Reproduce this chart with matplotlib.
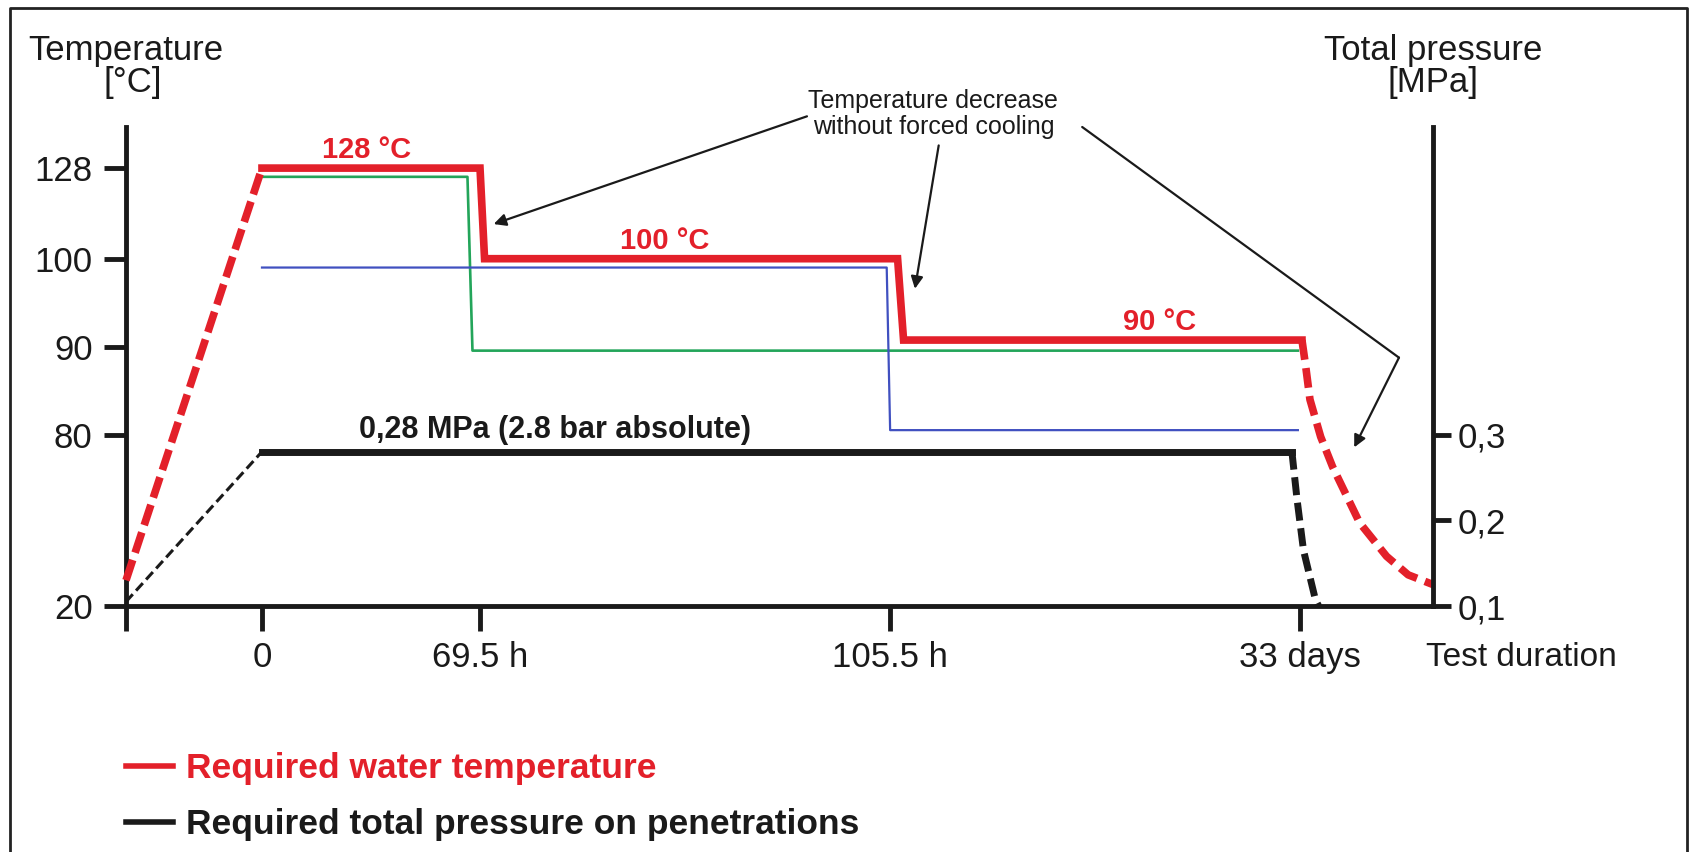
import numpy as np
import matplotlib
matplotlib.use('Agg')
import matplotlib.pyplot as plt
from matplotlib.lines import Line2D

plt.rcParams['font.family'] = ['Liberation Sans', 'DejaVu Sans']

# tick values / labels
hour_ticks = [-24, 0, 69.5, 105.5, 792]
hour_labels = ['', '0', '69.5 h', '105.5 h', '33 days']
temp_ticks = [20, 80, 90, 100, 128]
pres_ticks = [0.1, 0.2, 0.3]
pres_labels = ['0,1', '0,2', '0,3']

# the chart is schematic: breakpoints of the non-linear scales
x_anchor_h = [-48, -24, 0, 69.5, 105.5, 792, 870, 950]
x_anchor_pos = [-126, 0, 126, 328, 708, 1088, 1211, 1337]
y_anchor_t = [10, 20, 80, 90, 100, 128, 200]
y_anchor_pos = [-26.5, 0, 159, 240, 322, 406, 622]

# required water temperature (red)
red_heat_h = [-24, 0]
red_heat_t = [29, 128]
red_h = [0, 69.5, 69.9, 118, 128, 793]
red_t = [128, 128, 100, 100, 90.8, 90.8]
red_cool_h = [793, 795.2, 797.7, 804.0, 811.0, 826.9, 842.7, 855.4, 870]
red_cool_t = [90.8, 87.8, 84.0, 79.2, 68.7, 49.1, 37.4, 30.9, 27.5]

# measured temperatures
green_h = [0, 65.5, 67.1, 788]
green_t = [125.3, 125.3, 89.6, 89.6]
blue_h = [0, 105.2, 105.5, 788]
blue_t = [99, 99, 80.5, 80.5]

# required total pressure (black)
pres_heat_h = [-24, 0]
pres_heat_p = [0.105, 0.28]
pres_h = [0, 778]
pres_p = [0.28, 0.28]
pres_cool_h = [778, 786.6, 793.9, 800.9, 802.8]
pres_cool_p = [0.28, 0.2245, 0.165, 0.1075, 0.1]

RED = '#e3202a'
GREEN = '#23a55a'
BLUE = '#4050c0'
INK = '#1a1a1a'


def h_fwd(h):
    return np.interp(h, x_anchor_h, x_anchor_pos)


def h_inv(p):
    return np.interp(p, x_anchor_pos, x_anchor_h)


def t_fwd(t):
    return np.interp(t, y_anchor_t, y_anchor_pos)


def t_inv(p):
    return np.interp(p, y_anchor_pos, y_anchor_t)


fig = plt.figure(figsize=(16.92, 8.52), dpi=100)
ax = fig.add_axes([0.07447, 0.28873, 0.77246, 0.56221])
ax.set_xscale('function', functions=(h_fwd, h_inv))
ax.set_yscale('function', functions=(t_fwd, t_inv))
ax.set_xlim(-24, 870)
ax.set_ylim(20, 140.7)

ax2 = ax.twinx()
# 80 degC lines up with 0,3 MPa, 20 degC with 0,1 MPa
p_top = 0.1 + 0.2 * t_fwd(140.7) / t_fwd(80)
ax2.set_ylim(0.1, p_top)

# temperature lines
ax.plot(green_h, green_t, color=GREEN, lw=1.9, zorder=2)
ax.plot(blue_h, blue_t, color=BLUE, lw=1.6, zorder=2)
ax.plot(red_h, red_t, color=RED, lw=5.5, solid_joinstyle='miter', zorder=3)
ax.plot(red_heat_h, red_heat_t, color=RED, lw=5.5, dashes=(2.8, 1.0), zorder=3, clip_on=False)
ax.plot(red_cool_h, red_cool_t, color=RED, lw=5.5, dashes=(2.6, 1.1), zorder=3, clip_on=False)

# pressure
ax2.plot(pres_h, pres_p, color=INK, lw=5, solid_joinstyle='miter')
ax2.plot(pres_heat_h, pres_heat_p, color=INK, lw=2.2, dashes=(3.3, 1.6), clip_on=False)
ax2.plot(pres_cool_h, pres_cool_p, color=INK, lw=5, dashes=(2.6, 1.1), clip_on=False)

# spines
for s in ['top', 'right']:
    ax.spines[s].set_visible(False)
for s in ['top', 'left', 'bottom']:
    ax2.spines[s].set_visible(False)
for sp in [ax.spines['left'], ax.spines['bottom'], ax2.spines['right']]:
    sp.set_linewidth(3.5)
    sp.set_color(INK)
    sp.set_capstyle('projecting')

ax.set_xticks(hour_ticks)
ax.set_xticklabels(hour_labels)
ax.set_yticks(temp_ticks)
ax.set_yticklabels([str(t) for t in temp_ticks])
ax.minorticks_off()
ax.tick_params(axis='x', direction='out', length=18, width=3.5, pad=7,
               labelsize=25, colors=INK)
ax.tick_params(axis='y', direction='out', length=16, width=3.5, pad=8,
               labelsize=25, colors=INK)
ax2.set_yticks(pres_ticks)
ax2.set_yticklabels(pres_labels)
ax2.minorticks_off()
ax2.tick_params(axis='y', direction='out', length=13, width=3.5, pad=5,
                labelsize=25, colors=INK)

# axis titles centred on the spines
ax.text(0, 1.16, 'Temperature', transform=ax.transAxes, ha='center', va='center',
        fontsize=25, color=INK)
ax.text(0.005, 1.093, '[°C]', transform=ax.transAxes, ha='center', va='center',
        fontsize=25, color=INK)
ax.text(1, 1.16, 'Total pressure', transform=ax.transAxes, ha='center', va='center',
        fontsize=25, color=INK)
ax.text(1, 1.093, '[MPa]', transform=ax.transAxes, ha='center', va='center',
        fontsize=25, color=INK)
fig.text(1521 / 1692, 1 - 657 / 852, 'Test duration', ha='center', va='center',
         fontsize=24, color=INK)

# level labels
for h, t, lab in [(33.4, 128, '128 °C'), (85.7, 100, '100 °C'), (557, 90.8, '90 °C')]:
    ax.annotate(lab, xy=(h, t), xytext=(0, 3), textcoords='offset points',
                ha='center', va='bottom', fontsize=21, fontweight='bold', color=RED)
ax2.annotate('0,28 MPa (2.8 bar absolute)', xy=(76.1, 0.28), xytext=(0, 5),
             textcoords='offset points', ha='center', va='bottom',
             fontsize=22, fontweight='bold', color=INK)

# callout
ax.text(177.8, 144.8, 'Temperature decrease\nwithout forced cooling', ha='center',
        va='center', fontsize=18, color=INK, linespacing=1.1)
arw = dict(arrowstyle='-|>', color=INK, lw=1.6, mutation_scale=18, shrinkA=0, shrinkB=0)
ax.annotate('', xy=(70.7, 110.7), xytext=(98.2, 144), arrowprops=arw)
ax.annotate('', xy=(147, 96.6), xytext=(186.8, 135), arrowprops=arw)
ax.annotate('', xy=(850, 88.8), xytext=(427, 140.7),
            arrowprops=dict(arrowstyle='-', color=INK, lw=1.6, shrinkA=0, shrinkB=0),
            annotation_clip=False)
ax.annotate('', xy=(823.7, 75.5), xytext=(850, 88.8), arrowprops=arw)

# legend below the plot
handles = [Line2D([], [], color=RED, lw=4), Line2D([], [], color=INK, lw=4)]
leg = fig.legend(handles,
                 ['Required water temperature', 'Required total pressure on penetrations'],
                 loc='upper left', bbox_to_anchor=(126 / 1692, 1 - 752 / 852),
                 frameon=False, borderpad=0, borderaxespad=0, handlelength=1.33,
                 handletextpad=0.37, labelspacing=0.65,
                 prop={'size': 25.5, 'weight': 'bold'})
for txt, c in zip(leg.get_texts(), [RED, INK]):
    txt.set_color(c)

# outer frame (open at the bottom)
fx0, fx1, fy1 = 10 / 1692, 1687 / 1692, 1 - 8 / 852
fig.add_artist(Line2D([fx0, fx0, fx1, fx1], [0, fy1, fy1, 0], color='#222222', lw=2,
                      transform=fig.transFigure))

fig.savefig('out.png', dpi=100)
